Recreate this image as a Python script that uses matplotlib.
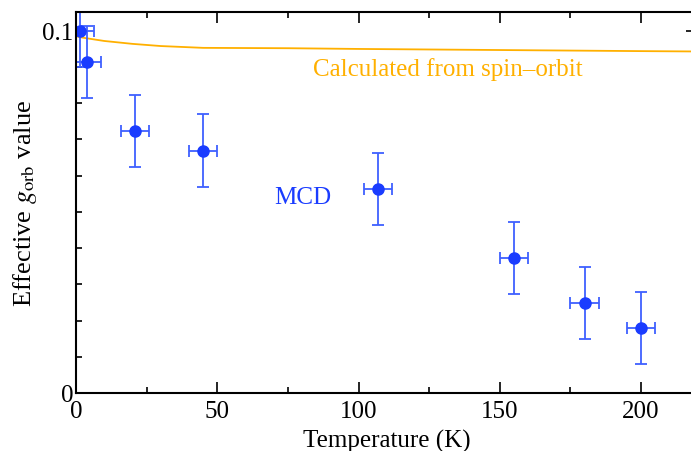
import matplotlib
matplotlib.use("Agg")
import matplotlib.pyplot as plt
from matplotlib.ticker import MultipleLocator

plt.rcParams["font.family"] = ["Liberation Serif", "DejaVu Serif"]
plt.rcParams["mathtext.fontset"] = "stix"

# MCD data points
temp = [1.5, 4.0, 21.0, 45.0, 107.0, 155.0, 180.0, 200.0]
temp_err = [5, 5, 5, 5, 5, 5, 5, 5]
g_orb = [0.100, 0.0914, 0.0724, 0.0669, 0.0564, 0.0373, 0.0249, 0.0180]
g_err = [0.010, 0.010, 0.010, 0.010, 0.010, 0.010, 0.010, 0.010]

# curve calculated from spin-orbit
calc_t = [0, 2.5, 10, 20, 30, 45, 75, 100, 150, 200, 220]
calc_g = [0.0985, 0.0981, 0.0972, 0.0964, 0.0958, 0.0953, 0.0952, 0.0950,
          0.0947, 0.0944, 0.0943]

BLUE = "#1a3cff"
ERR_BLUE = "#3f60ff"
ORANGE = "#ffb000"

fig = plt.figure(figsize=(6.91, 4.52), dpi=100)
ax = fig.add_axes([0.110, 0.128, 0.9, 0.843])

ax.plot(calc_t, calc_g, color=ORANGE, lw=1.3)
ax.errorbar(temp, g_orb, xerr=temp_err, yerr=g_err, fmt="o", color=BLUE,
            ecolor=ERR_BLUE, elinewidth=1.3, capsize=4, capthick=1.3,
            markersize=8)


def px_text(x, y, s, **kw):
    # place text by pixel position, origin at top-left of the image
    fig.text(x / 691, 1 - y / 452, s, va="center", ha="left", **kw)


px_text(313, 70, "Calculated from spin\u2013orbit", color=ORANGE, fontsize=18)
px_text(274, 198, "MCD", color=BLUE, fontsize=18)

x_max = (691 - 76) / 2.825
ax.set_xlim(0, x_max + 2.0)
ax.set_ylim(0, 0.1052)
# 1 K = 2.825 px so the right spine falls just off the canvas
ax.set_position([76 / 691, 58 / 452, (x_max + 2.0) * 2.825 / 691, 381 / 452])

ax.xaxis.set_major_locator(MultipleLocator(50))
ax.xaxis.set_minor_locator(MultipleLocator(25))
ax.yaxis.set_minor_locator(MultipleLocator(0.01))
ax.set_yticks([0, 0.1])
ax.set_yticklabels(["0", "0.1"])
ax.tick_params(which="both", direction="in", top=True, right=True,
               labelsize=18, width=1.2)
ax.tick_params(which="major", length=8)
ax.tick_params(axis="x", which="major", pad=5)
ax.tick_params(axis="y", which="major", pad=2)
ax.tick_params(which="minor", length=4)
for s in ax.spines.values():
    s.set_linewidth(1.5)

ax.set_xlabel("Temperature (K)", fontsize=18, labelpad=5)
ax.set_ylabel(r"Effective $g_{\mathrm{orb}}$ value", fontsize=19, labelpad=2)

fig.savefig("out.png", dpi=100)
